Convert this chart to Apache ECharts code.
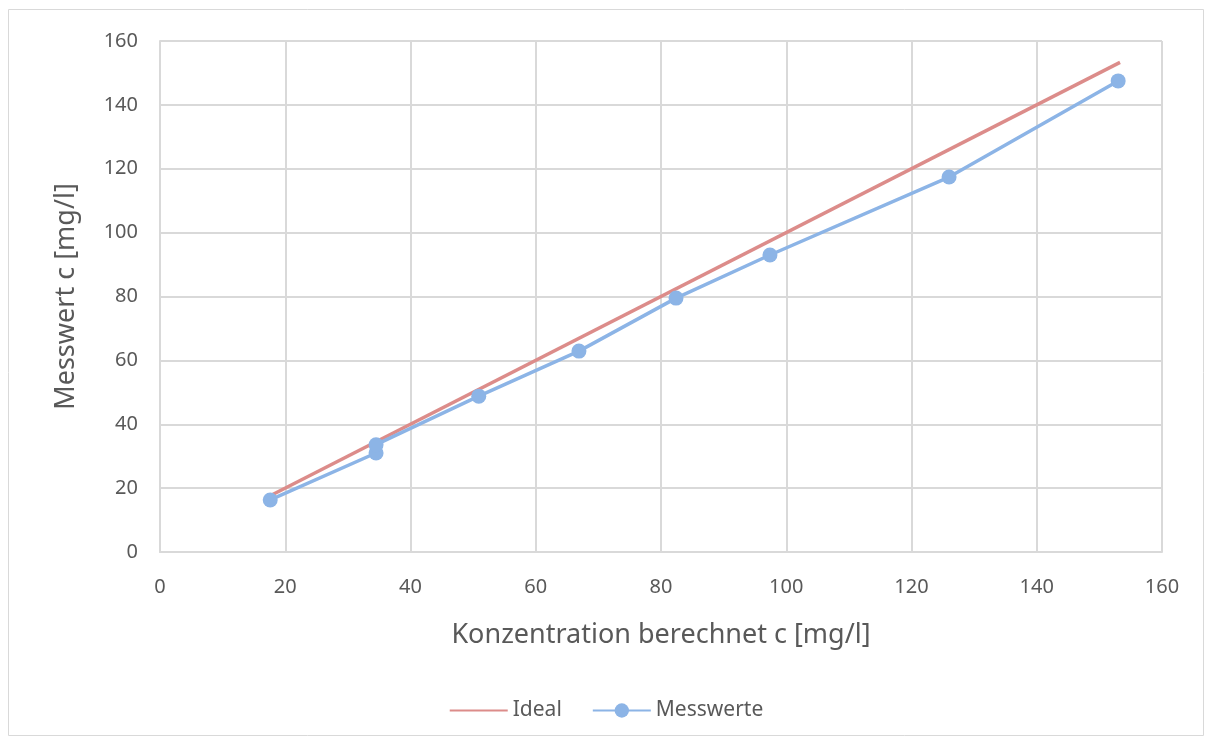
<!DOCTYPE html>
<html><head><meta charset="utf-8">
<script src="https://cdn.jsdelivr.net/npm/echarts@6/dist/echarts.min.js"></script>
<style>html,body{margin:0;padding:0;background:#fff}#c{width:1212px;height:742px}</style>
</head><body><div id="c"></div>
<script>
const idealX = [17.6, 153.3];
const idealY = [17.6, 153.3];
const messX = [17.6, 34.5, 34.5, 50.9, 66.9, 82.4, 97.4, 126.0, 153.0];
const messY = [16.3, 31.0, 33.6, 48.8, 62.9, 79.5, 93.0, 117.4, 147.5];
const xTicks = [0, 20, 40, 60, 80, 100, 120, 140, 160];
const yTicks = [0, 20, 40, 60, 80, 100, 120, 140, 160];
const xTitle = 'Konzentration berechnet c [mg/l]';
const yTitle = 'Messwert c [mg/l]';

const chart = echarts.init(document.getElementById('c'));
const font = '"Noto Sans", "Open Sans", sans-serif';
chart.setOption({
  animation: false,
  textStyle: {fontFamily: font},
  graphic: [{type: 'rect', shape: {x: 8.5, y: 9.5, width: 1195, height: 726}, style: {fill: 'none', stroke: '#d9d9d9', lineWidth: 1}, silent: true}],
  grid: {left: 160, right: 50, top: 41, bottom: 190},
  legend: {
    bottom: 16, left: 'center', itemGap: 30, itemWidth: 58, itemHeight: 18,
    textStyle: {color: '#595959', fontSize: 21, fontFamily: font},
    data: [{name: 'Ideal', itemStyle: {opacity: 0}}, 'Messwerte']
  },
  xAxis: {
    type: 'value', min: xTicks[0], max: xTicks[xTicks.length - 1], interval: 20,
    name: xTitle, nameLocation: 'middle', nameGap: 70,
    nameTextStyle: {color: '#595959', fontSize: 27, fontFamily: font},
    axisLine: {show: true, lineStyle: {color: '#d9d9d9', width: 2}},
    axisTick: {show: false},
    axisLabel: {color: '#595959', fontSize: 20, margin: 25, fontFamily: font},
    splitLine: {show: true, lineStyle: {color: '#d9d9d9', width: 2}}
  },
  yAxis: {
    type: 'value', min: yTicks[0], max: yTicks[yTicks.length - 1], interval: 20,
    name: yTitle, nameLocation: 'middle', nameGap: 80, nameRotate: 90,
    nameTextStyle: {color: '#595959', fontSize: 27, fontFamily: font},
    axisLine: {show: true, lineStyle: {color: '#d9d9d9', width: 2}},
    axisTick: {show: false},
    axisLabel: {color: '#595959', fontSize: 20, margin: 22, fontFamily: font},
    splitLine: {show: true, lineStyle: {color: '#d9d9d9', width: 2}}
  },
  series: [
    {
      name: 'Ideal', type: 'line', showSymbol: false, symbol: 'none',
      data: idealX.map((x, i) => [x, idealY[i]]),
      lineStyle: {color: '#dc8c8a', width: 3.5}, itemStyle: {color: '#dc8c8a'}
    },
    {
      name: 'Messwerte', type: 'line', smooth: false,
      symbol: 'circle', symbolSize: 15,
      data: messX.map((x, i) => [x, messY[i]]),
      lineStyle: {color: '#8cb4e6', width: 3.5}, itemStyle: {color: '#8cb4e6'}
    }
  ]
});
</script></body></html>
